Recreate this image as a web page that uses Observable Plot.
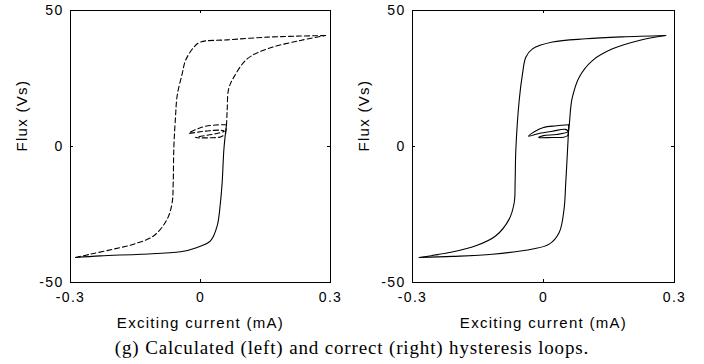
<!DOCTYPE html>
<html>
<head>
<meta charset="utf-8">
<script src="https://cdn.jsdelivr.net/npm/d3@7"></script>
<script src="https://cdn.jsdelivr.net/npm/@observablehq/plot@0.6"></script>
<style>
  html, body { margin: 0; padding: 0; background: #fff; }
  #wrap { position: relative; width: 704px; height: 364px; overflow: hidden; background: #fff; }
  .panel { position: absolute; top: 0; }
  #caption { position: absolute; left: 0; width: 704px; top: 338px; text-align: center;
    font-family: "Liberation Serif", "Times New Roman", serif; font-size: 19px; line-height: 19px;
    letter-spacing: 0.85px; color: #000; }
</style>
</head>
<body>
<div id="wrap">
  <div class="panel" id="left" style="left:0px"></div>
  <div class="panel" id="right" style="left:352px"></div>
  <div id="caption">(g) Calculated (left) and correct (right) hysteresis loops.</div>
</div>
<script>
// ---- axis / text data ----
const xTicks = [-0.3, 0, 0.3];
const xTickLabels = ["-0.3", "0", "0.3"];
const yTicks = [-50, 0, 50];
const yTickLabels = ["-50", "0", "50"];
const xTitle = "Exciting current (mA)";
const yTitle = "Flux (Vs)";

// ---- left panel (calculated) ----
const leftDescX = [0.2885, 0.230, 0.154, 0.0615, 0.0, -0.0154, -0.0346, -0.0423, -0.0538, -0.0577, -0.0615, -0.063, -0.0654, -0.0769, -0.1077, -0.154, -0.200, -0.254, -0.2885];
const leftDescY = [40.8, 40.6, 40.2, 39.2, 38.4, 36.5, 31.6, 26.7, 18.75, 10.8, -0.25, -13.2, -20.6, -26.7, -32.8, -35.9, -37.7, -39.6, -40.8];
const leftAscLowX = [-0.2885, -0.231, -0.138, -0.046, -0.0077, 0.023, 0.0385, 0.046, 0.050, 0.0538, 0.0577, 0.0600];
const leftAscLowY = [-40.8, -40.2, -39.6, -38.7, -37.1, -34.7, -29.2, -20.6, -13.2, -1.5, 5.0, 8.0];
const leftMinorX = [0.0600, 0.035, 0.010, -0.010, -0.027, -0.005, 0.020, 0.045, 0.055, 0.035, 0.010, -0.012, 0.020, 0.048, 0.058];
const leftMinorY = [8.0, 7.9, 7.4, 6.3, 4.9, 5.3, 5.8, 6.0, 5.6, 4.7, 4.0, 3.3, 3.2, 3.6, 4.8];
const leftAscUpX = [0.058, 0.060, 0.0615, 0.065, 0.077, 0.1077, 0.154, 0.2308, 0.2885];
const leftAscUpY = [4.8, 8.0, 13.2, 21.2, 25.5, 32.2, 35.9, 39.0, 40.8];

// ---- right panel (correct) ----
const rightDescX = [0.280, 0.180, 0.097, 0.0206, -0.0252, -0.0405, -0.0481, -0.0557, -0.0634, -0.065, -0.067, -0.0786, -0.109, -0.155, -0.216, -0.2847];
const rightDescY = [40.8, 40.3, 39.6, 38.4, 35.9, 32.8, 26.7, 16.9, -1.5, -13.2, -20.6, -26.7, -32.8, -36.5, -39.0, -40.8];
const rightAscLowX = [-0.2847, -0.208, -0.117, -0.025, 0.013, 0.036, 0.047, 0.051, 0.055, 0.058];
const rightAscLowY = [-40.8, -40.4, -39.6, -37.7, -35.9, -31.6, -23.1, -13.2, -1.5, 8.0];
const rightMinorX = [0.058, 0.030, 0.000, -0.020, -0.034, -0.010, 0.020, 0.050, 0.056, 0.030, 0.000, -0.011, 0.020, 0.046, 0.056];
const rightMinorY = [8.0, 7.6, 7.0, 5.5, 3.8, 4.8, 5.6, 6.3, 5.5, 4.4, 4.0, 3.3, 3.3, 3.4, 4.0];
const rightAscUpX = [0.056, 0.059, 0.0625, 0.066, 0.0817, 0.112, 0.158, 0.219, 0.280];
const rightAscUpY = [4.0, 8.0, 14.5, 18.1, 25.5, 31.6, 35.9, 39.0, 40.8];

const pts = (X, Y) => X.map((x, i) => [x, Y[i]]);

function panel(segments, mLeft, mRight) {
  const marks = [];
  for (const s of segments) {
    marks.push(Plot.line(pts(s.x, s.y), {
      stroke: "#000", strokeWidth: 1.1, curve: "catmull-rom",
      strokeDasharray: s.dash ? "5,3" : null
    }));
  }
  marks.push(Plot.frame({stroke: "#000", strokeWidth: 1}));
  // small inward ticks at 0
  marks.push(Plot.ruleX([0], {y1: -50, y2: -48.9, stroke: "#000"}));
  marks.push(Plot.ruleX([0], {y1: 50, y2: 48.9, stroke: "#000"}));
  marks.push(Plot.ruleY([0], {x1: -0.3, x2: -0.293, stroke: "#000"}));
  marks.push(Plot.ruleY([0], {x1: 0.3, x2: 0.293, stroke: "#000"}));
  marks.push(Plot.axisX({ticks: xTicks, tickSize: 0, tickPadding: 10, fontSize: 14,
    tickFormat: d => xTickLabels[xTicks.indexOf(d)], label: null}));
  marks.push(Plot.axisY({ticks: yTicks, tickSize: 0, tickPadding: 7, fontSize: 14,
    tickFormat: d => yTickLabels[yTicks.indexOf(d)], label: null}));
  marks.push(Plot.text([xTitle], {frameAnchor: "bottom", dy: 41, fontSize: 15, lineAnchor: "middle"}));
  marks.push(Plot.text([yTitle], {frameAnchor: "left", rotate: -90, dx: -48, dy: 5, fontSize: 15, lineAnchor: "middle"}));
  return Plot.plot({
    width: 352, height: 335,
    marginLeft: mLeft, marginRight: mRight, marginTop: 10, marginBottom: 53,
    x: {domain: [-0.3, 0.3]},
    y: {domain: [-50, 50]},
    style: {fontFamily: "'Liberation Sans', Arial, sans-serif", fontSize: "14px", letterSpacing: "1.3px", color: "#000", background: "transparent"},
    marks
  });
}

document.getElementById("left").appendChild(panel([
  {x: leftDescX, y: leftDescY, dash: true},
  {x: leftAscLowX, y: leftAscLowY, dash: false},
  {x: leftMinorX, y: leftMinorY, dash: true},
  {x: leftAscUpX, y: leftAscUpY, dash: true}
], 70, 22));

document.getElementById("right").appendChild(panel([
  {x: rightDescX, y: rightDescY, dash: false},
  {x: rightAscLowX, y: rightAscLowY, dash: false},
  {x: rightMinorX, y: rightMinorY, dash: false},
  {x: rightAscUpX, y: rightAscUpY, dash: false}
], 60, 30));
</script>
</body>
</html>
